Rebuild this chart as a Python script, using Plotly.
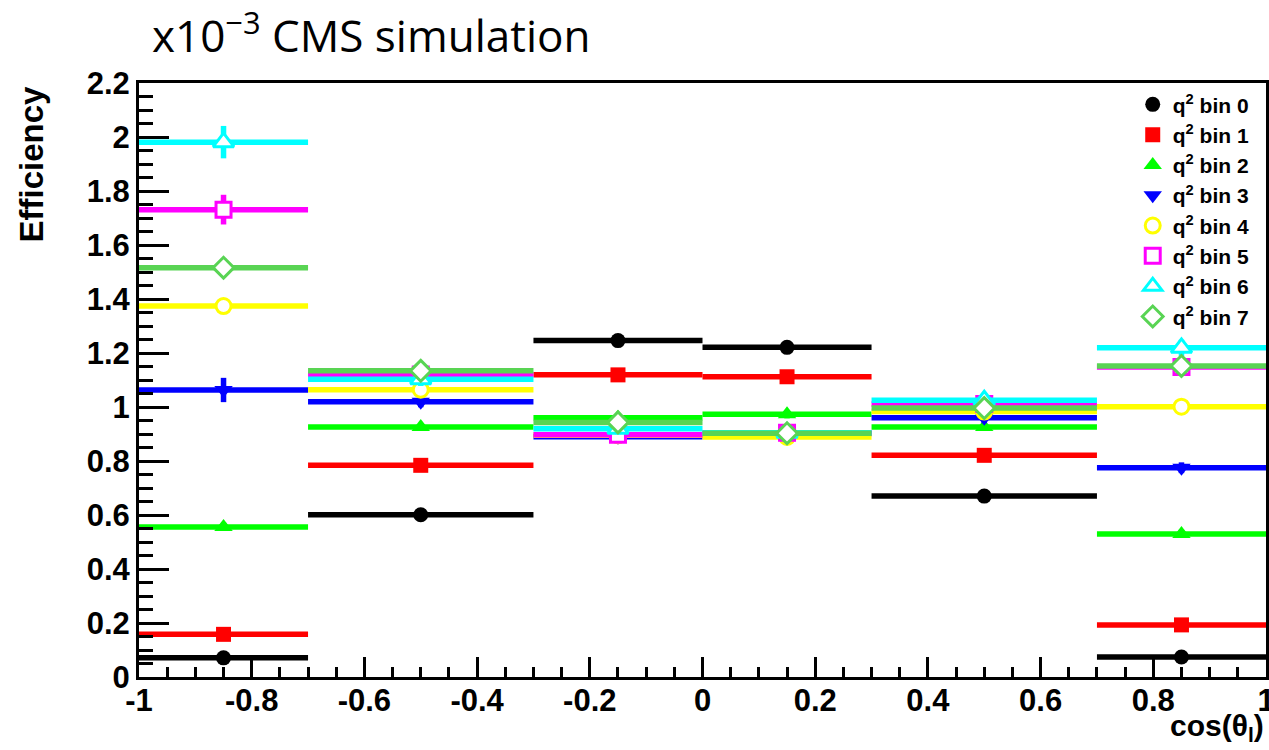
import plotly.graph_objects as go

# cos(theta_l) binning
bin_edges = [-1.0, -0.7, -0.3, 0.0, 0.3, 0.7, 1.0]

# Efficiency per q^2 bin (in units of 1e-3)
eff_q0 = [0.071, 0.601, 1.246, 1.221, 0.670, 0.074]
eff_q1 = [0.158, 0.784, 1.119, 1.112, 0.821, 0.193]
eff_q2 = [0.556, 0.926, 0.960, 0.973, 0.926, 0.530]
eff_q3 = [1.063, 1.019, 0.890, 0.902, 0.960, 0.775]
eff_q4 = [1.374, 1.064, 0.895, 0.889, 0.983, 1.001]
eff_q5 = [1.731, 1.120, 0.897, 0.905, 1.011, 1.148]
eff_q6 = [1.981, 1.103, 0.919, 0.905, 1.025, 1.219]
eff_q7 = [1.516, 1.134, 0.943, 0.903, 0.996, 1.152]

# Statistical uncertainties
err_q0 = [0.005, 0.010, 0.012, 0.012, 0.010, 0.005]
err_q1 = [0.010, 0.015, 0.015, 0.015, 0.015, 0.010]
err_q2 = [0.015, 0.015, 0.015, 0.015, 0.015, 0.015]
err_q3 = [0.045, 0.020, 0.015, 0.015, 0.020, 0.020]
err_q4 = [0.030, 0.020, 0.015, 0.015, 0.020, 0.020]
err_q5 = [0.055, 0.025, 0.020, 0.020, 0.025, 0.025]
err_q6 = [0.060, 0.025, 0.020, 0.020, 0.025, 0.030]
err_q7 = [0.035, 0.020, 0.015, 0.015, 0.020, 0.020]

series_names = ["q<sup>2</sup> bin %d" % i for i in range(8)]
series_eff = [eff_q0, eff_q1, eff_q2, eff_q3, eff_q4, eff_q5, eff_q6, eff_q7]
series_err = [err_q0, err_q1, err_q2, err_q3, err_q4, err_q5, err_q6, err_q7]
series_colors = ["#000000", "#ff0000", "#00ff00", "#0000ff",
                 "#ffff00", "#ff00ff", "#00ffff", "#59d454"]
series_symbols = ["circle", "square", "triangle-up", "triangle-down",
                  "circle", "square", "triangle-up", "diamond"]
series_open = [False, False, False, False, True, True, True, True]
series_msize = [15, 15, 16, 16, 15, 15, 18, 16]

x_tickvals = [-1, -0.8, -0.6, -0.4, -0.2, 0, 0.2, 0.4, 0.6, 0.8, 1]
x_ticktext = ["-1", "-0.8", "-0.6", "-0.4", "-0.2", "0", "0.2", "0.4", "0.6", "0.8", "1"]
y_tickvals = [0, 0.2, 0.4, 0.6, 0.8, 1.0, 1.2, 1.4, 1.6, 1.8, 2.0, 2.2]
y_ticktext = ["0", "0.2", "0.4", "0.6", "0.8", "1", "1.2", "1.4", "1.6", "1.8", "2", "2.2"]

centers = [(a + b) / 2 for a, b in zip(bin_edges[:-1], bin_edges[1:])]
half_widths = [(b - a) / 2 for a, b in zip(bin_edges[:-1], bin_edges[1:])]

fig = go.Figure()
for name, eff, err, col, sym, is_open, ms in zip(series_names, series_eff, series_err,
                                                 series_colors, series_symbols,
                                                 series_open, series_msize):
    if is_open:
        marker = dict(symbol=sym, size=ms, color="white", line=dict(color=col, width=3))
    else:
        marker = dict(symbol=sym, size=ms, color=col, line=dict(color=col, width=0))
    fig.add_trace(go.Scatter(
        x=centers, y=eff, mode="markers", name=name,
        marker=marker,
        error_x=dict(type="data", array=half_widths, symmetric=True,
                     color=col, thickness=5.5, width=0),
        error_y=dict(type="data", array=err, symmetric=True,
                     color=col, thickness=5.5, width=0),
        cliponaxis=False,
    ))

label_family = "Liberation Sans, Arial, sans-serif"
axis_font = dict(family=label_family, size=31, color="black", weight="bold")

fig.update_layout(
    width=1269, height=750,
    margin=dict(l=139, r=3, t=83, b=73, autoexpand=False),
    paper_bgcolor="white", plot_bgcolor="white",
    showlegend=True,
    legend=dict(
        x=0.990, y=0.998, xanchor="right", yanchor="top",
        bgcolor="rgba(0,0,0,0)", borderwidth=0,
        font=dict(family=label_family, size=21, color="black", weight="bold"),
        tracegroupgap=0, itemwidth=30,
    ),
    xaxis=dict(
        range=[-1, 1], showgrid=False, zeroline=False, automargin=False,
        showline=True, linecolor="black", linewidth=3, mirror=True,
        ticks="inside", ticklen=20, tickwidth=2.5, tickcolor="black",
        tickvals=x_tickvals, ticktext=x_ticktext, tickfont=axis_font,
        ticklabeloverflow="allow", ticklabelstandoff=-6,
        minor=dict(dtick=0.05, tick0=0, ticks="inside", ticklen=10, tickwidth=2.5, tickcolor="black", showgrid=False),
    ),
    yaxis=dict(
        range=[0, 2.2], showgrid=False, zeroline=False, automargin=False,
        showline=True, linecolor="black", linewidth=3, mirror=True,
        ticks="inside", ticklen=30, tickwidth=2.5, tickcolor="black",
        tickvals=y_tickvals, ticktext=y_ticktext, tickfont=axis_font,
        ticklabeloverflow="allow",
        minor=dict(dtick=0.05, tick0=0, ticks="inside", ticklen=14, tickwidth=2.5, tickcolor="black", showgrid=False),
    ),
)

fig.add_annotation(
    text="Efficiency", textangle=-90,
    xref="paper", yref="paper", x=-0.095, y=1.0,
    xanchor="center", yanchor="top", showarrow=False,
    font=dict(family=label_family, size=33, color="black", weight="bold"),
)
fig.add_annotation(
    text="cos(θ<sub>l</sub>)",
    xref="paper", yref="paper", x=1.0, y=-0.119,
    xanchor="right", yanchor="bottom", showarrow=False,
    font=dict(family=label_family, size=30, color="black", weight="bold"),
)
fig.add_annotation(
    text="x10<sup>−3</sup> CMS simulation",
    xref="paper", yref="paper", x=0.01, y=1.0, yshift=16,
    xanchor="left", yanchor="bottom", showarrow=False,
    font=dict(family="Open Sans, sans-serif", size=44, color="black"),
)

fig.write_html("out.html")
